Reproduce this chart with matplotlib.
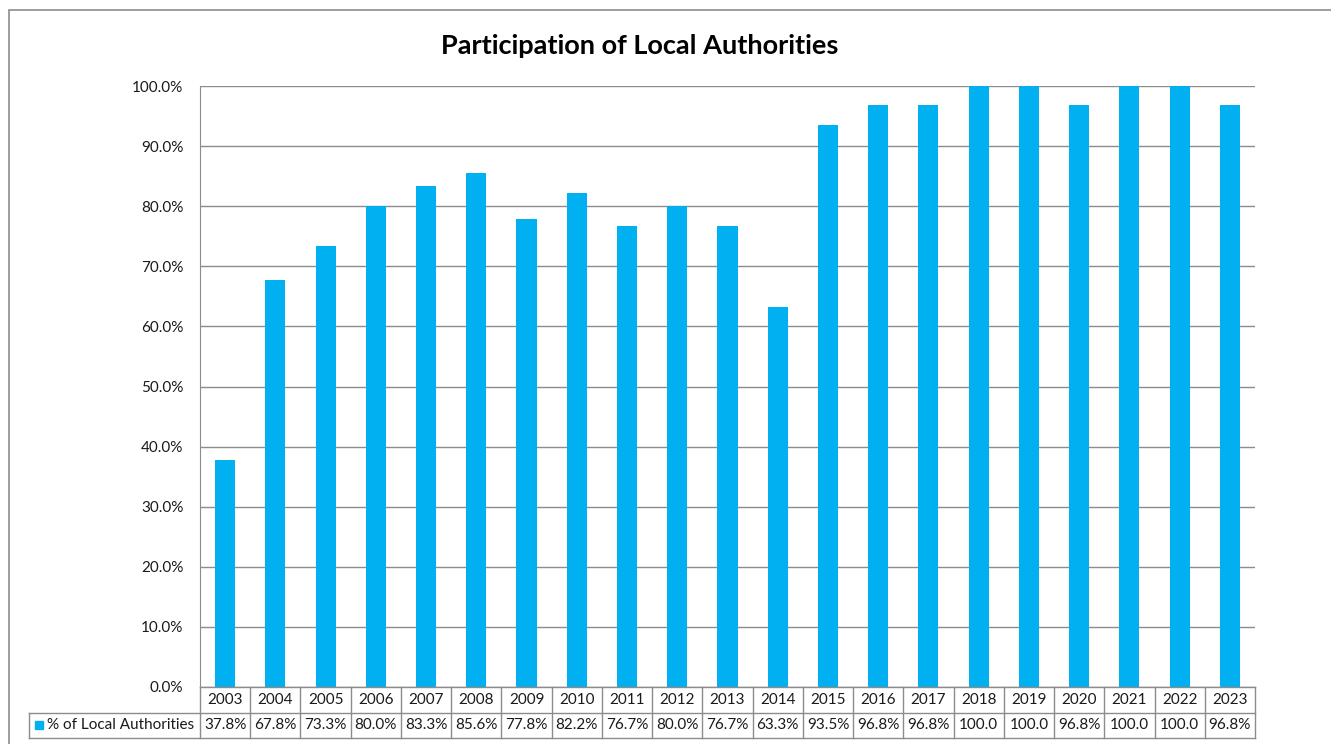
import matplotlib
matplotlib.use("Agg")
import matplotlib.pyplot as plt
from matplotlib.patches import Rectangle
from matplotlib.lines import Line2D
from matplotlib.ticker import PercentFormatter

W, H = 1331, 744
BLUE = "#00B0F0"
LINE = "#8c8c8c"
FONT = "Lato"

years = [str(y) for y in range(2003, 2024)]
pct = [37.8, 67.8, 73.3, 80.0, 83.3, 85.6, 77.8, 82.2, 76.7, 80.0, 76.7,
       63.3, 93.5, 96.8, 96.8, 100.0, 100.0, 96.8, 100.0, 100.0, 96.8]
series_name = "% of Local Authorities"
# Excel cuts "100.0%" off in the narrow table cells
cell_text = [f"{v:.1f}%" if v < 100 else f"{v:.1f}" for v in pct]

plt.rcParams.update({"font.family": FONT, "font.size": 11, "text.color": "#1a1a1a"})


def fx(x):
    return x / W


def fy(y):
    return 1 - y / H


fig = plt.figure(figsize=(W / 100, H / 100), dpi=100)
fig.patch.set_facecolor("white")

# outer chart frame (right/bottom run off the image)
fig.add_artist(Rectangle((fx(8.5), fy(760)), fx(1400), fy(9.5) - fy(760),
                         transform=fig.transFigure, fill=False, edgecolor=LINE, lw=1.2))

L, R, T, B = 200, 1255, 86, 687
ax = fig.add_axes([fx(L), fy(B), fx(R - L), fy(T) - fy(B)])
x = list(range(len(years)))
ax.bar(x, [v / 100 for v in pct], width=0.4, color=BLUE, zorder=3)
ax.set_xlim(-0.5, len(years) - 0.5)
ax.set_ylim(0, 1.0)
ax.set_yticks([i / 10 for i in range(11)])
ax.yaxis.set_major_formatter(PercentFormatter(1.0, decimals=1))
ax.tick_params(axis="y", length=0, pad=12, labelsize=11, labelcolor="#1a1a1a")
ax.tick_params(axis="x", length=0, labelbottom=False)
ax.grid(axis="y", color=LINE, lw=1.0, zorder=0)
for s in ["top", "right", "bottom"]:
    ax.spines[s].set_visible(False)
ax.spines["left"].set_color(LINE)

fig.text(fx(640), fy(46), "Participation of Local Authorities", fontsize=19.5,
         fontweight="bold", color="black", ha="center", va="center")

# data table under the axis
cw = (R - L) / len(years)
rows = [B, 712.5, 738]
tbl = dict(transform=fig.transFigure, color=LINE, lw=1.0)
fig.add_artist(Line2D([fx(L), fx(R)], [fy(rows[0])] * 2, **tbl))
fig.add_artist(Line2D([fx(29), fx(R)], [fy(rows[1])] * 2, **tbl))
fig.add_artist(Line2D([fx(29), fx(R)], [fy(rows[2])] * 2, **tbl))
fig.add_artist(Line2D([fx(29)] * 2, [fy(rows[1]), fy(rows[2])], **tbl))
for i in range(len(years) + 1):
    xe = L + i * cw
    fig.add_artist(Line2D([fx(xe)] * 2, [fy(rows[0]), fy(rows[2])], **tbl))
for i, (yr, txt) in enumerate(zip(years, cell_text)):
    xc = L + (i + 0.5) * cw
    fig.text(fx(xc), fy((rows[0] + rows[1]) / 2), yr, ha="center", va="center", fontsize=11)
    fig.text(fx(xc), fy((rows[1] + rows[2]) / 2), txt, ha="center", va="center", fontsize=11)

ym = (rows[1] + rows[2]) / 2
fig.add_artist(Rectangle((fx(35), fy(ym + 4)), fx(8), fy(ym - 4) - fy(ym + 4),
                         transform=fig.transFigure, color=BLUE))
fig.text(fx(47), fy(ym), series_name, ha="left", va="center", fontsize=11)

fig.savefig("out.png", dpi=100)
